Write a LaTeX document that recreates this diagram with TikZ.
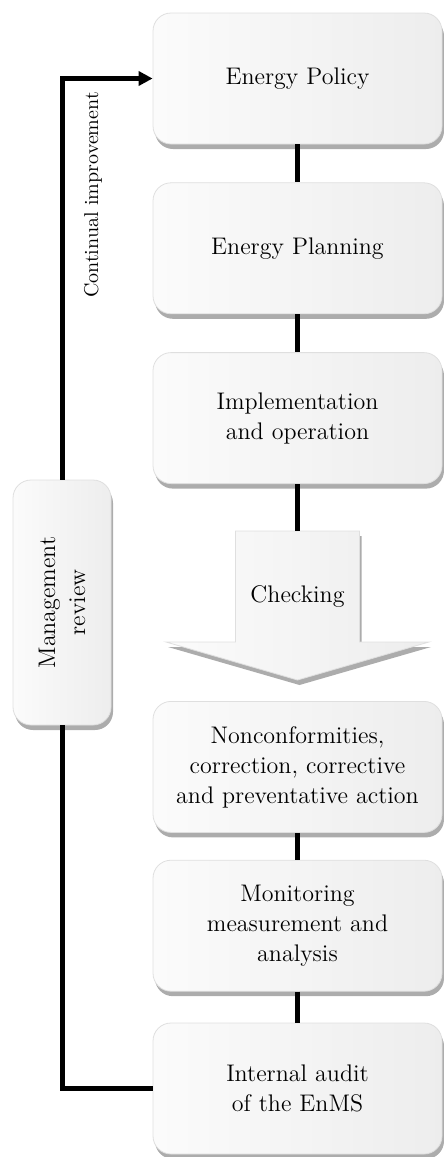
\documentclass[tikz,border=0pt]{standalone}
\usetikzlibrary{positioning,shadows,arrows.meta}

\begin{document}
\begin{tikzpicture}[
  x=1pt, y=1pt,
  font=\fontsize{12}{15}\selectfont,
  every node/.style={
    align=center
  },
  stage/.style={
    rectangle, rounded corners=9pt, draw=gray!25, thin,
    left color=gray!3, right color=gray!14,
    drop shadow={shadow xshift=1pt, shadow yshift=-2.5pt, fill=gray!65, opacity=1},
    minimum width=144.5pt, minimum height=65.5pt,
    text width=140pt, inner sep=0pt
  },
  link/.style={
    line width=2.5pt
  }
  ]
  \useasboundingbox (0,0) rectangle (222,-578.5);

  \node[stage] (policy) at (148.75,-39.25) {Energy Policy};
  \node[stage, below=19pt of policy] (planning) {Energy Planning};
  \node[stage, below=19pt of planning] (implement) {Implementation\\and operation};
  \node[stage, below=108.5pt of implement] (nonconf)
    {Nonconformities,\\correction, corrective\\and preventative action};
  \node[stage, below=13.5pt of nonconf] (monitor) {Monitoring\\measurement and\\analysis};
  \node[stage, below=15.5pt of monitor] (audit) {Internal audit\\of the EnMS};

  % checking arrow
  \begin{scope}[shift={(implement.south)}]
    \path[draw=gray!25, left color=gray!3, right color=gray!14,
      drop shadow={shadow xshift=1pt, shadow yshift=-2.5pt, fill=gray!65, opacity=1}]
      (-31,-23.5) -- (31,-23.5) -- (31,-79) -- (65.75,-79)
      -- (0,-98) -- (-65.75,-79) -- (-31,-79) -- cycle;
    \coordinate (checktop) at (0,-23.5);
    \node (check) at (0,-56.5) {Checking};
  \end{scope}

  \node[stage, rotate=90, minimum width=122.5pt, minimum height=49pt,
    text width=115pt] (review) at (31,-301.25) {Management\\review};

  \foreach \a/\b in {policy/planning, planning/implement, nonconf/monitor, monitor/audit}
    \draw[link] (\a) -- (\b);
  \draw[link] (implement.south) -- (checktop);

  % feedback loop
  \draw[link] (audit.west) -| (review.west);
  \draw[link, -{Triangle[length=7pt, width=7pt]}] (review.east) |- (policy.west);
  \node[rotate=90, font=\fontsize{10}{12}\selectfont] (improve) at (46.5,-97.5)
    {Continual improvement};
\end{tikzpicture}
\end{document}
